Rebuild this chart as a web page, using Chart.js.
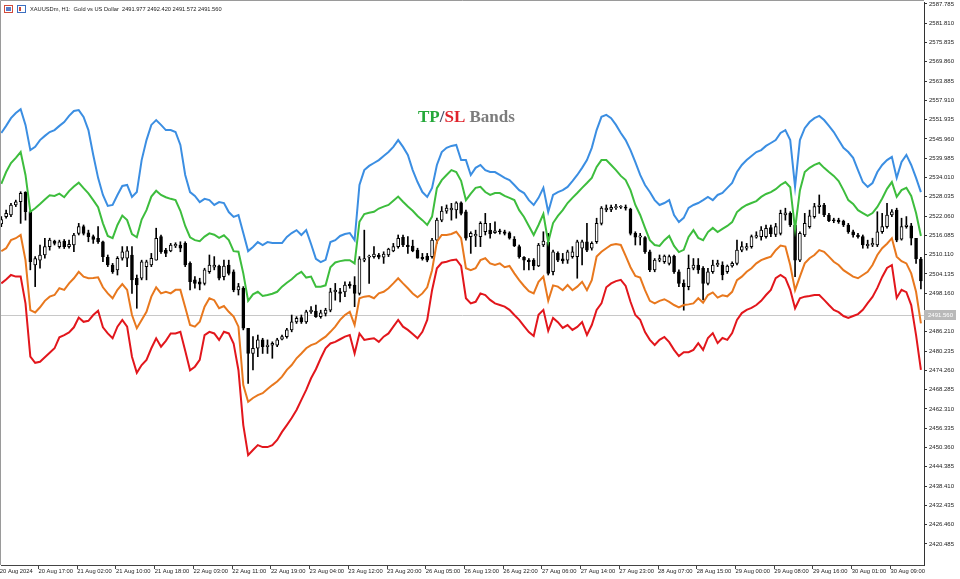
<!DOCTYPE html>
<html>
<head>
<meta charset="utf-8">
<title>XAUUSDm H1 - TP/SL Bands</title>
<script src="https://cdn.jsdelivr.net/npm/chart.js@4.4.1/dist/chart.umd.min.js"></script>
<style>
  html, body { margin: 0; padding: 0; background: #fff; }
  #wrap { width: 960px; height: 579px; }
</style>
</head>
<body>
<div id="wrap"><canvas id="bandsChart" width="960" height="579"></canvas></div>
<script>
// === H1 candles, bar 0 = 20 Aug 2024 09:00 ===
const opens = [
  2519.6, 2521.9, 2522.4, 2525.5, 2526.5, 2529.4, 2523.4, 2506.9, 2508.4, 2510.0,
  2512.6, 2514.3, 2512.6, 2514.3, 2512.6, 2513.1, 2516.7, 2518.8, 2516.9, 2515.7,
  2515.2, 2514.1, 2509.3, 2506.9, 2505.4, 2509.0, 2509.0, 2510.0, 2502.8, 2502.8,
  2506.4, 2506.9, 2508.4, 2515.7, 2511.5, 2511.3, 2512.8, 2513.1, 2513.6, 2507.4,
  2502.3, 2501.7, 2501.2, 2504.8, 2506.2, 2506.6, 2503.3, 2506.9, 2504.8, 2499.2,
  2499.7, 2487.3, 2479.5, 2481.1, 2483.7, 2481.6, 2482.1, 2482.1, 2483.9, 2484.7,
  2486.8, 2489.3, 2490.6, 2489.3, 2492.4, 2492.6, 2490.9, 2491.9, 2492.9, 2498.6,
  2498.6, 2498.6, 2501.0, 2500.7, 2498.1, 2508.4, 2509.3, 2509.5, 2510.0, 2509.3,
  2510.0, 2511.3, 2512.6, 2515.5, 2513.1, 2512.8, 2511.5, 2509.3, 2509.7, 2509.5,
  2514.6, 2520.8, 2523.6, 2524.0, 2524.0, 2526.2, 2523.4, 2515.7, 2515.9, 2515.7,
  2517.2, 2517.7, 2516.9, 2517.5, 2517.2, 2516.9, 2514.9, 2512.6, 2509.3, 2508.4,
  2508.4, 2506.6, 2513.1, 2513.9, 2504.8, 2510.5, 2508.8, 2508.4, 2509.5, 2509.5,
  2512.1, 2514.1, 2512.1, 2514.1, 2519.8, 2524.0, 2524.1, 2524.7, 2524.8, 2524.8,
  2524.2, 2516.7, 2515.5, 2515.4, 2511.0, 2505.4, 2508.4, 2507.9, 2507.4, 2509.7,
  2504.8, 2501.2, 2500.2, 2505.9, 2506.9, 2505.9, 2501.2, 2504.8, 2506.9, 2506.9,
  2504.8, 2506.6, 2507.4, 2511.5, 2512.1, 2512.6, 2515.5, 2515.7, 2515.7, 2518.5,
  2516.4, 2516.7, 2522.4, 2522.9, 2519.3, 2508.4, 2516.2, 2518.8, 2521.9, 2525.0,
  2525.5, 2522.4, 2520.8, 2520.8, 2520.5, 2519.3, 2517.2, 2516.2, 2515.7, 2512.9,
  2513.1, 2513.1, 2517.2, 2518.8, 2522.4, 2523.9, 2514.9, 2518.8, 2519.0, 2515.2,
  2508.7
];
const highs = [
  2521.9, 2523.9, 2526.0, 2527.0, 2529.6, 2529.6, 2523.5, 2509.5, 2513.1, 2515.2,
  2515.2, 2514.6, 2514.6, 2514.8, 2514.6, 2516.7, 2519.8, 2519.3, 2517.7, 2516.2,
  2518.8, 2514.3, 2510.0, 2507.4, 2509.5, 2512.6, 2512.6, 2512.6, 2503.8, 2508.4,
  2508.4, 2510.5, 2518.3, 2516.2, 2512.1, 2513.6, 2513.8, 2514.1, 2514.1, 2507.9,
  2503.3, 2502.8, 2505.9, 2510.0, 2509.5, 2506.9, 2508.4, 2508.4, 2505.4, 2501.2,
  2500.2, 2487.3, 2484.7, 2485.2, 2484.2, 2483.7, 2483.1, 2484.2, 2485.2, 2487.3,
  2491.4, 2490.9, 2491.4, 2492.9, 2494.0, 2494.5, 2492.9, 2493.5, 2499.7, 2501.2,
  2499.7, 2501.7, 2501.7, 2503.3, 2509.5, 2517.7, 2510.0, 2512.6, 2510.5, 2511.0,
  2512.1, 2513.6, 2516.2, 2516.2, 2515.7, 2514.6, 2512.1, 2510.5, 2510.5, 2515.2,
  2521.4, 2525.0, 2525.5, 2526.0, 2526.5, 2526.5, 2523.9, 2517.2, 2517.7, 2520.3,
  2522.9, 2519.8, 2520.3, 2518.0, 2517.7, 2517.2, 2515.7, 2513.1, 2509.5, 2508.9,
  2508.9, 2513.6, 2517.2, 2516.7, 2511.5, 2511.0, 2510.5, 2511.5, 2512.6, 2514.6,
  2514.6, 2519.8, 2514.1, 2521.4, 2525.0, 2525.5, 2525.5, 2525.7, 2525.3, 2525.5,
  2524.5, 2517.2, 2516.7, 2515.7, 2511.5, 2508.9, 2510.0, 2510.0, 2510.0, 2510.0,
  2505.4, 2502.3, 2510.0, 2508.9, 2508.9, 2506.4, 2505.9, 2508.4, 2508.4, 2507.9,
  2506.9, 2507.9, 2514.6, 2514.1, 2513.6, 2516.2, 2517.2, 2518.8, 2519.3, 2519.3,
  2519.8, 2523.9, 2524.5, 2523.4, 2519.8, 2517.2, 2522.9, 2523.9, 2526.0, 2528.6,
  2526.0, 2522.9, 2521.4, 2521.4, 2520.8, 2519.8, 2517.7, 2516.7, 2516.2, 2514.6,
  2515.2, 2523.4, 2522.9, 2526.0, 2524.1, 2524.5, 2521.4, 2521.9, 2519.8, 2515.2,
  2509.3
];
const lows = [
  2518.8, 2521.4, 2521.9, 2525.0, 2519.8, 2520.8, 2505.4, 2500.2, 2505.9, 2509.0,
  2511.5, 2513.1, 2512.1, 2512.0, 2512.1, 2511.0, 2516.2, 2516.2, 2514.1, 2513.6,
  2513.6, 2507.9, 2506.4, 2504.3, 2503.8, 2508.4, 2506.4, 2498.1, 2493.5, 2502.3,
  2502.3, 2506.4, 2508.4, 2510.5, 2509.5, 2511.0, 2512.3, 2511.0, 2506.4, 2499.2,
  2499.7, 2499.2, 2500.7, 2504.3, 2505.4, 2502.3, 2502.3, 2503.8, 2498.6, 2497.6,
  2486.8, 2470.2, 2474.4, 2478.5, 2479.5, 2479.5, 2478.0, 2481.6, 2483.7, 2484.2,
  2486.2, 2488.8, 2488.8, 2488.8, 2491.9, 2490.7, 2490.4, 2491.1, 2492.4, 2496.0,
  2495.5, 2497.1, 2499.7, 2494.0, 2497.6, 2507.9, 2501.2, 2509.0, 2508.8, 2507.4,
  2509.5, 2511.0, 2512.1, 2512.6, 2510.5, 2511.0, 2509.0, 2508.4, 2507.9, 2509.0,
  2513.6, 2520.3, 2522.9, 2520.8, 2521.4, 2522.4, 2514.6, 2510.5, 2512.6, 2512.6,
  2516.2, 2515.2, 2516.7, 2516.5, 2516.2, 2514.9, 2512.6, 2509.0, 2505.4, 2505.4,
  2505.4, 2506.4, 2512.6, 2503.8, 2503.8, 2507.9, 2507.4, 2507.4, 2509.0, 2502.8,
  2506.9, 2511.0, 2511.5, 2513.6, 2519.3, 2523.4, 2523.4, 2524.1, 2524.4, 2523.9,
  2516.2, 2513.1, 2513.1, 2510.5, 2504.8, 2504.8, 2507.9, 2507.4, 2506.9, 2504.3,
  2500.2, 2492.9, 2499.2, 2505.4, 2504.3, 2496.1, 2500.7, 2504.3, 2506.4, 2502.3,
  2504.3, 2506.2, 2506.9, 2511.0, 2511.5, 2512.1, 2515.2, 2514.6, 2515.2, 2515.7,
  2515.7, 2516.2, 2520.8, 2518.8, 2503.3, 2507.9, 2515.7, 2518.3, 2521.4, 2522.9,
  2521.9, 2520.3, 2520.0, 2519.8, 2518.8, 2516.7, 2515.5, 2515.2, 2512.1, 2512.1,
  2512.6, 2512.6, 2516.7, 2518.3, 2521.9, 2514.1, 2514.6, 2518.3, 2513.1, 2507.4,
  2499.5
];
const closes = [
  2521.0, 2522.9, 2525.5, 2526.5, 2529.1, 2523.4, 2507.9, 2508.9, 2510.0, 2512.6,
  2514.6, 2513.6, 2514.1, 2512.6, 2513.3, 2516.2, 2518.8, 2516.7, 2515.7, 2514.8,
  2514.1, 2509.5, 2506.9, 2504.8, 2509.0, 2511.0, 2511.3, 2502.3, 2500.7, 2507.9,
  2507.9, 2509.0, 2515.2, 2511.0, 2510.5, 2513.1, 2513.3, 2512.1, 2506.9, 2501.7,
  2501.2, 2501.0, 2505.4, 2506.9, 2506.9, 2502.8, 2506.6, 2504.3, 2499.2, 2500.2,
  2487.3, 2479.5, 2481.1, 2483.7, 2481.6, 2482.1, 2482.6, 2483.7, 2484.7, 2486.8,
  2489.3, 2490.4, 2489.3, 2492.4, 2492.9, 2490.9, 2492.1, 2492.9, 2498.6, 2499.1,
  2498.1, 2500.7, 2500.4, 2498.1, 2508.8, 2508.9, 2509.7, 2510.3, 2509.3, 2510.3,
  2511.8, 2512.6, 2515.2, 2513.1, 2512.6, 2511.3, 2509.0, 2508.9, 2508.4, 2514.6,
  2520.8, 2523.6, 2524.5, 2524.5, 2526.2, 2522.9, 2515.2, 2516.7, 2516.4, 2519.8,
  2519.8, 2516.5, 2517.5, 2517.2, 2516.7, 2515.2, 2512.8, 2509.5, 2508.4, 2507.9,
  2506.6, 2513.1, 2514.3, 2504.3, 2511.0, 2508.4, 2508.2, 2511.0, 2511.0, 2514.1,
  2514.1, 2511.5, 2513.6, 2519.8, 2524.5, 2524.5, 2524.8, 2525.0, 2525.0, 2524.5,
  2516.7, 2515.5, 2515.9, 2511.0, 2505.4, 2508.4, 2508.9, 2509.7, 2509.5, 2504.8,
  2501.2, 2500.2, 2505.9, 2506.9, 2505.4, 2501.2, 2504.8, 2506.9, 2507.4, 2503.8,
  2506.6, 2507.4, 2511.5, 2512.6, 2512.6, 2515.7, 2516.0, 2517.7, 2518.3, 2516.5,
  2518.8, 2522.9, 2523.1, 2519.3, 2508.4, 2516.7, 2519.8, 2522.1, 2525.0, 2525.5,
  2522.4, 2520.6, 2520.6, 2520.3, 2519.3, 2517.2, 2516.2, 2515.7, 2513.1, 2513.3,
  2513.6, 2517.2, 2518.8, 2522.4, 2523.4, 2514.6, 2518.8, 2519.3, 2515.2, 2508.8,
  2502.0
];

// === TP/SL band values, one per bar ===
const tp2Band = [
  2547.8, 2550.0, 2552.4, 2554.0, 2555.2, 2550.3, 2542.5, 2543.5, 2545.6, 2546.9,
  2548.1, 2548.7, 2550.0, 2551.2, 2553.1, 2554.6, 2554.9, 2552.8, 2548.7, 2541.0,
  2533.9, 2528.6, 2525.2, 2525.5, 2528.6, 2531.4, 2531.7, 2528.0, 2529.5, 2539.4,
  2545.6, 2550.3, 2551.8, 2550.3, 2548.7, 2548.7, 2548.1, 2544.1, 2534.8, 2529.5,
  2528.3, 2526.4, 2527.4, 2527.0, 2525.5, 2526.4, 2526.1, 2523.3, 2521.8, 2522.4,
  2516.8, 2511.2, 2512.5, 2514.0, 2513.1, 2514.0, 2513.7, 2513.7, 2513.7, 2515.6,
  2516.8, 2517.7, 2516.2, 2517.7, 2513.4, 2508.8, 2507.8, 2508.5, 2514.0, 2514.6,
  2515.9, 2516.5, 2516.8, 2514.6, 2531.7, 2536.3, 2537.6, 2538.5, 2539.4, 2540.7,
  2541.9, 2543.5, 2545.6, 2543.5, 2541.0, 2536.3, 2532.6, 2529.5, 2528.0, 2530.8,
  2537.9, 2541.9, 2543.2, 2543.8, 2544.1, 2539.4, 2539.4, 2534.8, 2537.0, 2537.9,
  2536.3, 2535.7, 2535.7, 2534.8, 2533.9, 2533.2, 2531.7, 2530.1, 2529.2, 2527.0,
  2525.5, 2527.7, 2530.8, 2523.3, 2528.6, 2529.5, 2530.1, 2531.1, 2532.9, 2534.8,
  2537.0, 2539.4, 2543.2, 2548.7, 2552.8, 2553.4, 2552.4, 2550.3, 2547.8, 2545.6,
  2542.5, 2538.8, 2534.8, 2531.7, 2529.5, 2527.0, 2525.5, 2526.1, 2527.0, 2522.4,
  2520.2, 2521.5, 2524.6, 2525.5, 2526.1, 2527.0, 2528.0, 2527.0, 2528.6, 2529.2,
  2530.8, 2532.3, 2535.7, 2537.9, 2539.4, 2540.7, 2541.9, 2542.5, 2543.8, 2544.7,
  2545.6, 2547.8, 2548.7, 2545.6, 2531.1, 2545.6, 2549.3, 2551.2, 2552.4, 2553.1,
  2551.8, 2550.0, 2548.1, 2545.6, 2543.2, 2541.9, 2540.1, 2536.3, 2532.6, 2531.1,
  2532.3, 2535.7, 2537.9, 2539.4, 2540.4, 2533.9, 2538.8, 2541.0, 2537.9, 2533.9,
  2529.5
];
const tp1Band = [
  2532.0, 2535.7, 2538.5, 2540.1, 2541.9, 2534.8, 2523.4, 2524.5, 2525.8, 2527.2,
  2528.5, 2528.3, 2529.0, 2527.9, 2529.8, 2531.2, 2532.4, 2530.7, 2529.1, 2527.0,
  2524.8, 2519.8, 2515.9, 2515.2, 2519.3, 2522.2, 2520.8, 2516.5, 2515.5, 2521.0,
  2523.9, 2528.1, 2529.9, 2528.6, 2527.9, 2527.4, 2527.0, 2523.7, 2519.0, 2515.5,
  2514.6, 2514.3, 2515.7, 2516.7, 2516.3, 2515.3, 2516.1, 2514.6, 2511.2, 2511.0,
  2504.3, 2495.8, 2497.8, 2498.6, 2497.3, 2497.6, 2498.0, 2498.6, 2500.2, 2501.4,
  2502.5, 2503.9, 2504.8, 2503.0, 2503.3, 2500.2, 2500.2, 2500.6, 2506.2, 2507.7,
  2508.1, 2508.4, 2508.4, 2507.4, 2520.3, 2522.7, 2523.1, 2523.4, 2524.4, 2525.0,
  2525.5, 2526.8, 2528.1, 2526.5, 2525.0, 2523.7, 2522.1, 2520.8, 2519.3, 2521.9,
  2530.7, 2533.2, 2534.8, 2536.3, 2535.7, 2533.0, 2527.0, 2529.0, 2530.8, 2531.1,
  2529.5, 2528.6, 2529.2, 2529.2, 2528.3, 2527.7, 2527.0, 2523.9, 2521.8, 2519.0,
  2516.2, 2519.3, 2522.7, 2514.0, 2519.9, 2522.1, 2523.9, 2526.1, 2527.7, 2529.2,
  2530.8, 2532.3, 2533.9, 2537.3, 2539.4, 2539.4, 2537.9, 2536.3, 2534.5, 2533.2,
  2530.1, 2525.5, 2522.4, 2518.4, 2514.6, 2513.1, 2512.8, 2514.6, 2515.9, 2512.8,
  2510.9, 2511.6, 2515.6, 2517.7, 2515.3, 2514.6, 2517.1, 2518.4, 2517.1, 2518.1,
  2519.0, 2520.2, 2523.3, 2524.6, 2525.5, 2526.1, 2526.7, 2528.0, 2528.9, 2529.5,
  2530.4, 2531.7, 2532.6, 2531.0, 2518.0, 2530.0, 2535.7, 2537.0, 2537.9, 2538.5,
  2537.0, 2535.7, 2534.5, 2532.9, 2530.1, 2527.0, 2525.8, 2523.9, 2523.0, 2522.1,
  2523.0, 2524.9, 2527.5, 2530.5, 2532.6, 2528.0, 2530.1, 2530.8, 2528.3, 2523.0,
  2515.9
];
const sl1Band = [
  2511.2, 2512.1, 2514.6, 2515.2, 2516.2, 2508.4, 2492.9, 2492.2, 2493.8, 2495.8,
  2497.1, 2497.6, 2499.7, 2499.2, 2501.2, 2502.8, 2504.8, 2503.3, 2502.8, 2502.9,
  2503.1, 2500.0, 2498.1, 2496.6, 2499.2, 2501.0, 2499.2, 2491.4, 2487.3, 2489.9,
  2492.4, 2497.1, 2500.0, 2498.1, 2498.6, 2498.1, 2499.2, 2499.2, 2493.8, 2488.3,
  2487.8, 2489.3, 2494.0, 2496.6, 2496.0, 2493.5, 2494.2, 2492.4, 2490.9, 2487.8,
  2469.7, 2464.5, 2465.7, 2466.6, 2467.2, 2468.5, 2469.7, 2470.8, 2472.3, 2474.4,
  2475.9, 2478.0, 2479.5, 2481.1, 2482.1, 2482.6, 2483.7, 2484.7, 2486.2, 2487.8,
  2489.9, 2491.4, 2492.4, 2488.3, 2496.6, 2497.1, 2497.3, 2496.6, 2498.1, 2498.6,
  2499.7, 2501.2, 2502.8, 2501.2, 2499.7, 2498.1, 2496.9, 2498.1, 2500.0, 2505.3,
  2514.1, 2516.2, 2516.2, 2516.5, 2517.2, 2515.2, 2505.9, 2505.3, 2505.9, 2508.4,
  2509.0, 2507.4, 2506.9, 2507.4, 2506.2, 2506.6, 2504.3, 2502.2, 2500.4, 2498.8,
  2498.1, 2501.7, 2503.3, 2495.8, 2500.6, 2500.2, 2499.1, 2500.7, 2499.1, 2500.2,
  2501.7, 2499.1, 2502.2, 2509.5, 2511.0, 2512.1, 2513.1, 2513.4, 2513.1, 2509.7,
  2506.2, 2503.5, 2503.0, 2499.1, 2495.8, 2495.0, 2495.8, 2496.3, 2495.5, 2494.5,
  2493.8, 2494.5, 2494.7, 2495.0, 2496.6, 2495.2, 2497.6, 2498.4, 2496.8, 2497.5,
  2497.2, 2498.6, 2502.2, 2503.3, 2504.8, 2505.9, 2507.4, 2508.4, 2509.0, 2509.5,
  2511.5, 2512.9, 2512.6, 2506.9, 2499.1, 2503.3, 2507.4, 2509.0, 2510.0, 2511.5,
  2511.0, 2509.5, 2507.9, 2506.9, 2505.3, 2504.3, 2503.3, 2502.8, 2503.8, 2504.8,
  2506.9, 2510.0, 2512.1, 2513.5, 2515.2, 2509.5, 2508.1, 2507.4, 2504.3, 2498.6,
  2488.8
];
const sl2Band = [
  2501.2, 2502.4, 2503.8, 2503.3, 2503.3, 2495.0, 2478.5, 2476.6, 2476.9, 2478.3,
  2479.7, 2481.1, 2484.5, 2485.2, 2486.0, 2487.6, 2490.6, 2489.3, 2489.6, 2491.4,
  2492.7, 2487.6, 2485.7, 2484.2, 2487.8, 2489.9, 2487.8, 2478.5, 2473.5, 2475.9,
  2477.5, 2481.1, 2484.2, 2481.6, 2483.4, 2485.7, 2485.7, 2486.2, 2480.3, 2474.3,
  2475.4, 2477.5, 2485.2, 2486.2, 2485.7, 2483.7, 2486.2, 2485.7, 2482.6, 2474.3,
  2457.3, 2448.0, 2449.6, 2451.1, 2450.5, 2450.5, 2451.1, 2452.7, 2455.2, 2457.3,
  2459.5, 2462.0, 2465.1, 2468.2, 2471.8, 2474.6, 2478.0, 2481.1, 2482.6, 2483.1,
  2483.9, 2484.7, 2485.2, 2479.5, 2485.7, 2483.7, 2484.0, 2484.2, 2483.1, 2484.7,
  2485.7, 2487.8, 2489.9, 2487.8, 2486.8, 2485.5, 2484.2, 2486.2, 2489.9, 2499.1,
  2505.9, 2507.6, 2507.9, 2508.4, 2508.6, 2506.6, 2496.6, 2495.0, 2495.5, 2498.1,
  2497.6, 2496.1, 2495.0, 2494.5, 2494.0, 2493.0, 2491.4, 2489.9, 2488.0, 2486.1,
  2484.9, 2491.5, 2493.0, 2486.5, 2490.5, 2489.2, 2487.4, 2488.3, 2486.8, 2487.7,
  2489.2, 2485.2, 2488.3, 2493.0, 2495.0, 2500.0, 2501.2, 2501.9, 2502.3, 2500.4,
  2495.5, 2491.4, 2489.9, 2486.1, 2483.7, 2482.1, 2483.7, 2484.6, 2483.0, 2480.6,
  2478.7, 2479.9, 2479.9, 2480.6, 2482.7, 2480.6, 2484.3, 2485.8, 2482.7, 2484.3,
  2483.7, 2485.8, 2489.9, 2492.0, 2493.0, 2493.6, 2494.5, 2495.8, 2497.6, 2499.2,
  2502.8, 2503.8, 2502.8, 2499.2, 2493.5, 2496.6, 2497.1, 2497.3, 2497.6, 2497.6,
  2496.1, 2494.5, 2493.0, 2492.3, 2491.1, 2490.5, 2491.1, 2491.7, 2493.0, 2495.1,
  2497.0, 2499.8, 2503.2, 2506.0, 2506.9, 2496.7, 2499.2, 2498.5, 2494.5, 2485.2,
  2474.4
];

// === Axis labels ===
const timeLabels = [
  "20 Aug 2024", "20 Aug 17:00", "21 Aug 02:00", "21 Aug 10:00", "21 Aug 18:00",
  "22 Aug 03:00", "22 Aug 11:00", "22 Aug 19:00", "23 Aug 04:00", "23 Aug 12:00",
  "23 Aug 20:00", "26 Aug 05:00", "26 Aug 13:00", "26 Aug 22:00", "27 Aug 06:00",
  "27 Aug 14:00", "27 Aug 23:00", "28 Aug 07:00", "28 Aug 15:00", "29 Aug 00:00",
  "29 Aug 08:00", "29 Aug 16:00", "30 Aug 01:00", "30 Aug 09:00"
];
const timeLabelBars = [0, 8, 16, 24, 32, 40, 48, 56, 64, 72, 80, 88, 96, 104, 112,
  120, 128, 136, 144, 152, 160, 168, 176, 184];
const priceTicks = [
  2420.485, 2426.460, 2432.435, 2438.410, 2444.385, 2450.360, 2456.335, 2462.310,
  2468.285, 2474.260, 2480.235, 2486.210, 2492.185, 2498.160, 2504.135, 2510.110,
  2516.085, 2522.060, 2528.035, 2534.010, 2539.985, 2545.960, 2551.935, 2557.910,
  2563.885, 2569.860, 2575.835, 2581.810, 2587.785
];
const lastPrice = 2491.560;
const headerText = "XAUUSDm, H1:  Gold vs US Dollar  2491.977 2492.420 2491.572 2491.560";

// === Build datasets ===
const wickData = highs.map((h, i) => ({ x: i, y: [lows[i], h] }));
const bodyData = opens.map((o, i) => ({ x: i, y: [o, closes[i]] }));
const toPoints = arr => arr.map((v, i) => ({ x: i, y: v }));

function bandLine(values, color) {
  return {
    type: "line",
    data: toPoints(values),
    borderColor: color,
    borderWidth: 2,
    pointRadius: 0,
    tension: 0,
    order: 0
  };
}

// price line, price box, title and header
const overlay = {
  id: "overlay",
  beforeDatasetsDraw(chart) {
    const { ctx, chartArea } = chart;
    const y = Math.round(chart.scales.y.getPixelForValue(lastPrice)) + 0.5;
    ctx.save();
    ctx.strokeStyle = "#c8c8c8";
    ctx.lineWidth = 1;
    ctx.beginPath();
    ctx.moveTo(chartArea.left, y);
    ctx.lineTo(chartArea.right, y);
    ctx.stroke();
    ctx.restore();
  },
  afterDraw(chart) {
    const { ctx, chartArea } = chart;
    ctx.save();

    // frame
    ctx.strokeStyle = "#9a9a9a";
    ctx.lineWidth = 1;
    ctx.beginPath();
    ctx.moveTo(0.5, chartArea.bottom);
    ctx.lineTo(0.5, 0.5);
    ctx.lineTo(chartArea.right, 0.5);
    ctx.stroke();

    // current price box on the axis
    const y = Math.round(chart.scales.y.getPixelForValue(lastPrice));
    ctx.fillStyle = "#b9b9b9";
    ctx.fillRect(chartArea.right, y - 5, 32, 10);
    ctx.fillStyle = "#ffffff";
    ctx.font = "6px 'Liberation Sans'";
    ctx.textBaseline = "middle";
    ctx.textAlign = "left";
    ctx.fillText(lastPrice.toFixed(3), chartArea.right + 4, y + 0.5);

    // header icons and symbol line
    ctx.strokeStyle = "#d04a3a";
    ctx.strokeRect(4.5, 5.5, 8, 7);
    ctx.fillStyle = "#5a7ec8";
    ctx.fillRect(6, 7, 5, 4);
    ctx.strokeStyle = "#3c6fc0";
    ctx.strokeRect(17.5, 5.5, 8, 7);
    ctx.fillStyle = "#d04a3a";
    ctx.fillRect(19, 7, 2, 4);
    ctx.fillStyle = "#222";
    ctx.font = "5.7px 'Liberation Sans'";
    ctx.textBaseline = "middle";
    ctx.fillText(headerText, 30, 9.5);

    // indicator title
    const parts = [["TP", "#25a83a"], ["/", "#46506a"], ["SL", "#e0222b"], [" Bands", "#7c7c7c"]];
    ctx.font = "bold 17px 'Liberation Serif'";
    ctx.textBaseline = "alphabetic";
    let x = 418;
    parts.forEach(([t, c]) => {
      ctx.fillStyle = c;
      ctx.fillText(t, x, 122);
      x += ctx.measureText(t).width;
    });
    ctx.restore();
  }
};

const ctx = document.getElementById("bandsChart").getContext("2d");
const chart = new Chart(ctx, {
  type: "bar",
  data: {
    datasets: [
      bandLine(tp2Band, "#3b8ee2"),
      bandLine(tp1Band, "#3dbd3d"),
      bandLine(sl1Band, "#e8781e"),
      bandLine(sl2Band, "#e2161c"),
      {
        label: "body",
        data: bodyData,
        backgroundColor: c => (closes[c.dataIndex] >= opens[c.dataIndex] ? "#ffffff" : "#000000"),
        borderColor: "#000000",
        borderWidth: 1,
        borderSkipped: false,
        barThickness: 3,
        minBarLength: 1,
        grouped: false,
        order: 1
      },
      {
        label: "wick",
        data: wickData,
        backgroundColor: "#000000",
        barThickness: 1,
        grouped: false,
        order: 2
      }
    ]
  },
  options: {
    responsive: false,
    animation: false,
    events: [],
    layout: { autoPadding: false, padding: { top: 2, left: 1, right: 0, bottom: 0 } },
    plugins: { legend: { display: false }, tooltip: { enabled: false } },
    scales: {
      x: {
        type: "linear",
        offset: false,
        min: -0.06,
        max: 190.64,
        grid: { offset: false, drawOnChartArea: false, drawTicks: true, tickLength: 4, color: "#444" },
        border: { display: true, color: "#444", width: 1 },
        afterBuildTicks: scale => { scale.ticks = timeLabelBars.map(b => ({ value: b - 0.3 })); },
        afterFit: scale => { scale.height = 14; scale.paddingLeft = 0; scale.paddingRight = 0; },
        ticks: {
          autoSkip: false,
          maxRotation: 0,
          minRotation: 0,
          align: "start",
          padding: -1,
          color: "#222",
          font: { family: "Liberation Sans", size: 5.8 },
          callback: (v, i) => timeLabels[i]
        }
      },
      y: {
        position: "right",
        min: 2413.96,
        max: 2588.38,
        grid: { drawOnChartArea: false, drawTicks: true, tickLength: 3, color: "#333" },
        border: { display: true, color: "#333", width: 1 },
        afterBuildTicks: scale => { scale.ticks = priceTicks.map(v => ({ value: v })); },
        afterFit: scale => { scale.width = 36; scale.paddingTop = 0; scale.paddingBottom = 0; },
        ticks: {
          padding: 2,
          color: "#222",
          font: { family: "Liberation Sans", size: 6 },
          callback: v => Number(v).toFixed(3)
        }
      }
    }
  },
  plugins: [overlay]
});
</script>
</body>
</html>
